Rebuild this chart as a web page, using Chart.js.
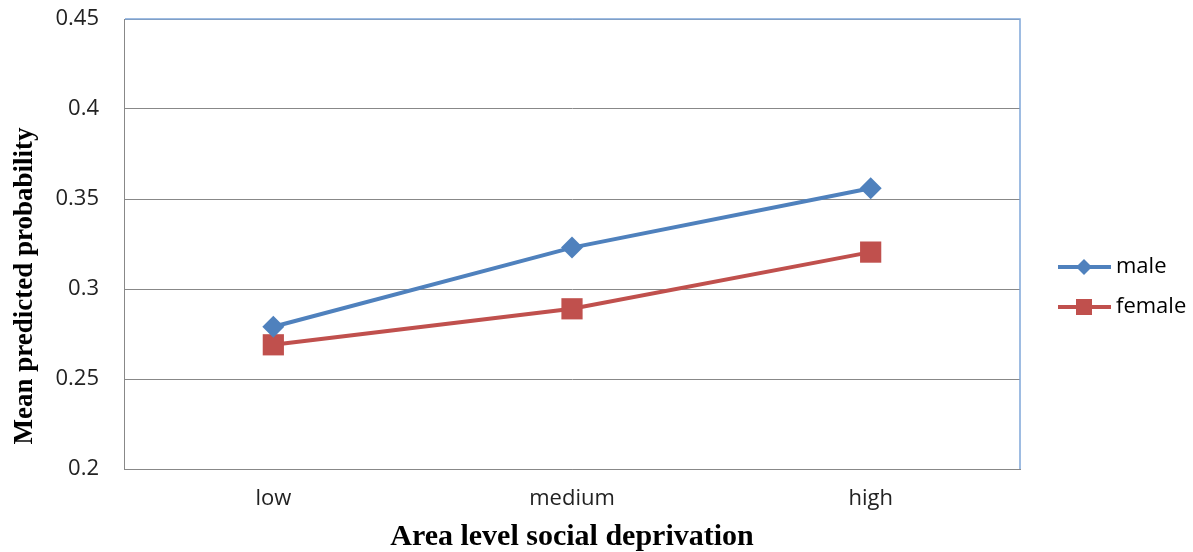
<!DOCTYPE html>
<html>
<head>
<meta charset="utf-8">
<script src="https://cdn.jsdelivr.net/npm/chart.js@4/dist/chart.umd.min.js"></script>
<style>
  html, body { margin: 0; padding: 0; background: #fff; }
  #wrap { width: 1193px; height: 552px; position: relative; }
</style>
</head>
<body>
<div id="wrap"><canvas id="c"></canvas></div>
<script>
var categories = ["low", "medium", "high"];
var male = [0.279, 0.323, 0.356];
var female = [0.269, 0.289, 0.3205];
var y_ticks = [0.2, 0.25, 0.3, 0.35, 0.4, 0.45];

var tick_font = { family: "'Open Sans', 'Noto Sans', sans-serif", size: 22 };

// legend drawn by hand: line with the marker in the middle, like the office chart
var side_legend = {
  id: "side_legend",
  afterDraw(chart) {
    const ctx = chart.ctx;
    const rows = [267, 307];
    chart.data.datasets.forEach((ds, i) => {
      const y = rows[i];
      ctx.save();
      ctx.strokeStyle = ds.borderColor;
      ctx.lineWidth = 4;
      ctx.beginPath();
      ctx.moveTo(1058, y);
      ctx.lineTo(1111, y);
      ctx.stroke();
      ctx.fillStyle = ds.backgroundColor;
      ctx.beginPath();
      if (ds.pointStyle === "rect") {
        ctx.fillRect(1084 - 8, y - 8, 16, 16);
      } else {
        ctx.moveTo(1084, y - 8);
        ctx.lineTo(1092, y);
        ctx.lineTo(1084, y + 8);
        ctx.lineTo(1076, y);
        ctx.closePath();
        ctx.fill();
      }
      ctx.fillStyle = "#000";
      ctx.font = "22px 'Open Sans', 'Noto Sans', sans-serif";
      ctx.textBaseline = "middle";
      ctx.fillText(ds.label, 1116, y);
      ctx.restore();
    });
  }
};

// blue top and right edge of the plot box, and the y title which sits a bit low
var box_edge = {
  id: "box_edge",
  afterDraw(chart) {
    const a = chart.chartArea;
    const ctx = chart.ctx;
    ctx.save();
    ctx.strokeStyle = "#7FA7D9";
    ctx.lineWidth = 1.5;
    ctx.beginPath();
    ctx.moveTo(a.left + 1, a.top);
    ctx.lineTo(a.right, a.top);
    ctx.lineTo(a.right, a.bottom);
    ctx.stroke();

    ctx.translate(25, 286);
    ctx.rotate(-Math.PI / 2);
    ctx.fillStyle = "#000";
    ctx.font = "bold 27px 'Liberation Serif', 'Times New Roman', serif";
    ctx.textAlign = "center";
    ctx.textBaseline = "middle";
    ctx.fillText("Mean predicted probability", 0, 0);
    ctx.restore();
  }
};

const config = {
  type: "line",
  data: {
    labels: categories,
    datasets: [
      {
        label: "male",
        data: male,
        borderColor: "#4F81BD",
        backgroundColor: "#4F81BD",
        borderWidth: 4,
        pointStyle: "rectRot",
        pointRadius: 11,
        pointBorderWidth: 0,
        tension: 0
      },
      {
        label: "female",
        data: female,
        borderColor: "#C0504D",
        backgroundColor: "#C0504D",
        borderWidth: 4,
        pointStyle: "rect",
        pointRadius: 15,
        pointBorderWidth: 0,
        tension: 0
      }
    ]
  },
  options: {
    responsive: true,
    maintainAspectRatio: false,
    animation: false,
    layout: { padding: { top: 19, right: 173, left: 0, bottom: 0 } },
    plugins: {
      legend: { display: false },
      tooltip: { enabled: false }
    },
    scales: {
      x: {
        offset: true,
        grid: { display: false, drawTicks: false },
        border: { color: "#888", width: 1 },
        ticks: { color: "#222", font: tick_font, padding: 17 },
        title: {
          display: true,
          text: "Area level social deprivation",
          color: "#000",
          font: { family: "'Liberation Serif', 'Times New Roman', serif", size: 30, weight: "bold", lineHeight: 1.0 },
          padding: { top: 8, bottom: 0 }
        },
        afterFit(s) { s.height = 83; s.paddingLeft = 0; s.paddingRight = 0; }
      },
      y: {
        min: 0.2,
        max: 0.45,
        afterBuildTicks(s) { s.ticks = y_ticks.map(v => ({ value: v })); },
        grid: { color: "#888", drawTicks: false },
        border: { color: "#888", width: 1 },
        ticks: {
          color: "#222",
          font: tick_font,
          padding: 25,
          callback: v => String(Math.round(v * 100) / 100)
        },
        afterFit(s) { s.width = 124; s.paddingTop = 0; s.paddingBottom = 0; }
      }
    }
  },
  plugins: [box_edge, side_legend]
};

new Chart(document.getElementById("c"), config);
</script>
</body>
</html>
